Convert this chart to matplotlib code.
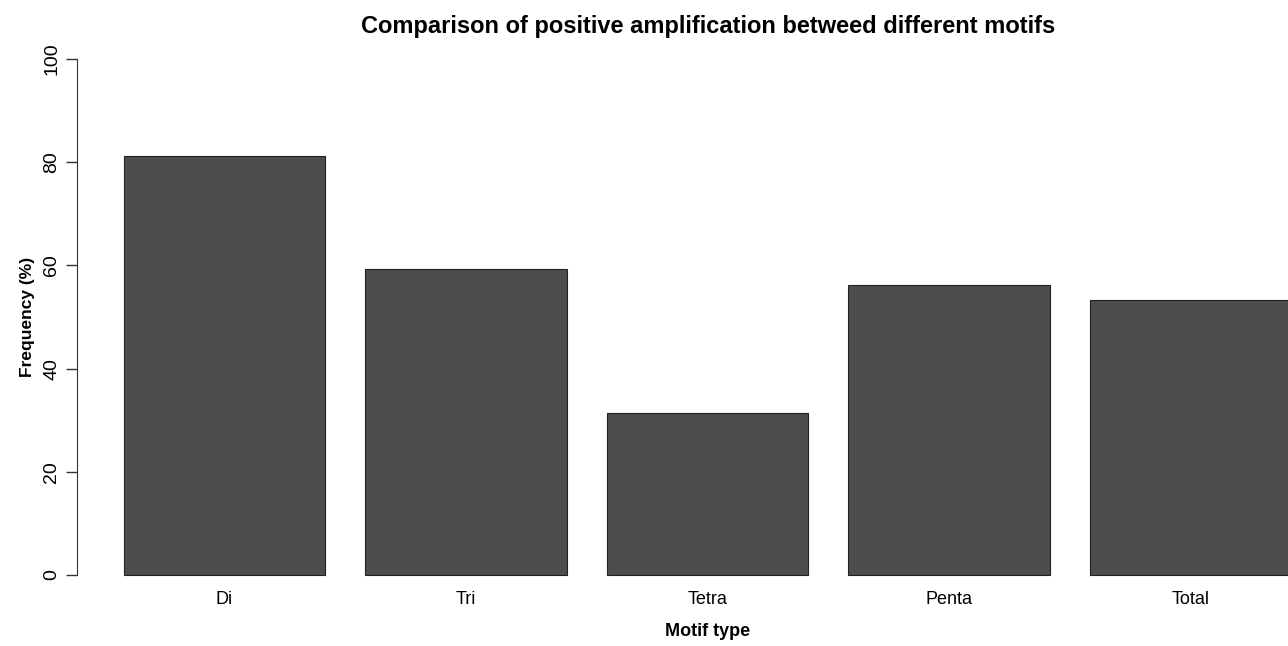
import matplotlib
matplotlib.use("Agg")
import matplotlib.pyplot as plt

# data
motifs = ["Di", "Tri", "Tetra", "Penta", "Total"]
freq = [81.2, 59.3, 31.3, 56.2, 53.2]

plt.rcParams["font.family"] = ["Liberation Sans", "DejaVu Sans"]

W, H = 1288, 646
fig = plt.figure(figsize=(W / 100, H / 100), dpi=100)
# plot region in pixels (R-style barplot, right side cropped)
left, right, top, bottom = 77, 1288, 38.4, 595.6
ax = fig.add_axes([left / W, 1 - bottom / H, (right - left) / W, (bottom - top) / H])

# R barplot geometry: width 1, space 0.2
xs = [0.2 + 1.2 * i + 0.5 for i in range(len(motifs))]
ax.bar(xs, freq, width=1.0, color="#4D4D4D", edgecolor="#222222", linewidth=0.8)

ax.set_xlim(-0.032, 5.984)
ax.set_ylim(-4, 104)

for s in ["top", "right", "bottom"]:
    ax.spines[s].set_visible(False)
ax.spines["left"].set_bounds(0, 100)
ax.spines["left"].set_color("#333333")

ax.set_yticks([0, 20, 40, 60, 80, 100])
ax.set_yticklabels(["0", "20", "40", "60", "80", "100"], rotation=90, va="center", fontsize=14)
ax.tick_params(axis="y", length=8, width=1, color="#333333", pad=4)
ax.set_xticks(xs)
ax.set_xticklabels(motifs, fontsize=13)
ax.tick_params(axis="x", length=0, pad=-3)

ax.set_xlabel("Motif type", fontsize=13, fontweight="bold")
ax.xaxis.label.set_va("center")
ax.xaxis.set_label_coords(0.5 * (1 - 0) + (708 - (left + right) / 2) / (right - left), -(632 - bottom) / (bottom - top))
ax.set_ylabel("Frequency (%)", fontsize=12.5, fontweight="bold", labelpad=6)
fig.text(708.5 / W, 1 - 27 / H, "Comparison of positive amplification betweed different motifs",
         ha="center", va="center", fontsize=17, fontweight="bold")

fig.savefig("out.png", dpi=100)
